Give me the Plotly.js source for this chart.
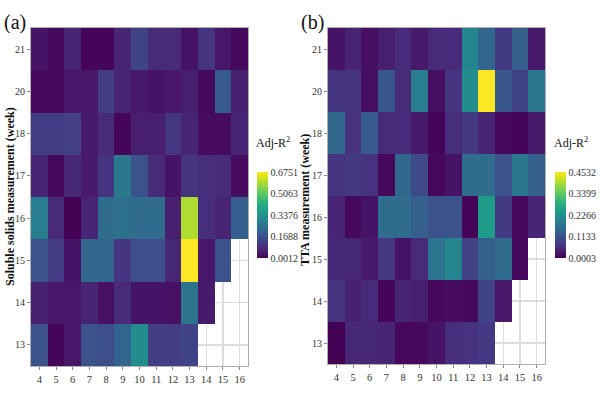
<!DOCTYPE html>
<html>
<head>
<meta charset="utf-8">
<script src="https://cdn.plot.ly/plotly-3.0.1.min.js"></script>
<style>html,body{margin:0;padding:0;background:#fff;}#chart{width:600px;height:400px;}</style>
</head>
<body>
<div id="chart"></div>
<script>
// Harvest week (x) and measurement week (y)
var xWeeks = [4, 5, 6, 7, 8, 9, 10, 11, 12, 13, 14, 15, 16];
var yWeeks = ['13', '14', '15', '16', '17', '18', '20', '21'];

// (a) Soluble solids Adj-R2, rows follow yWeeks (bottom to top)
var ssRow13 = [0.170, 0.008, 0.042, 0.170, 0.163, 0.217, 0.325, 0.122, 0.122, 0.136, null, null, null];
var ssRow14 = [0.062, 0.042, 0.042, 0.069, 0.028, 0.082, 0.035, 0.035, 0.028, 0.257, 0.048, null, null];
var ssRow15 = [0.170, 0.116, 0.035, 0.224, 0.217, 0.102, 0.163, 0.163, 0.075, 0.6751, 0.042, 0.170, null];
var ssRow16 = [0.284, 0.082, 0.0012, 0.069, 0.237, 0.250, 0.237, 0.237, 0.055, 0.594, 0.089, 0.069, 0.203];
var ssRow17 = [0.069, 0.015, 0.075, 0.048, 0.102, 0.271, 0.170, 0.082, 0.035, 0.102, 0.089, 0.082, 0.021];
var ssRow18 = [0.116, 0.116, 0.129, 0.048, 0.082, 0.008, 0.055, 0.055, 0.109, 0.069, 0.021, 0.021, 0.069];
var ssRow20 = [0.015, 0.015, 0.042, 0.042, 0.122, 0.069, 0.048, 0.035, 0.042, 0.055, 0.015, 0.190, 0.055];
var ssRow21 = [0.035, 0.015, 0.069, 0.008, 0.008, 0.069, 0.136, 0.082, 0.082, 0.035, 0.102, 0.042, 0.015];

// (b) TTA Adj-R2
var ttaRow13 = [0.0003, 0.050, 0.050, 0.046, 0.009, 0.009, 0.023, 0.059, 0.064, 0.077, null, null, null];
var ttaRow14 = [0.068, 0.041, 0.055, 0.005, 0.046, 0.037, 0.009, 0.014, 0.009, 0.091, 0.027, null, null];
var ttaRow15 = [0.050, 0.050, 0.032, 0.073, 0.023, 0.055, 0.172, 0.204, 0.091, 0.136, 0.159, 0.009, null];
var ttaRow16 = [0.046, 0.009, 0.023, 0.159, 0.159, 0.136, 0.114, 0.114, 0.005, 0.249, 0.077, 0.009, 0.046];
var ttaRow17 = [0.068, 0.073, 0.064, 0.009, 0.150, 0.100, 0.009, 0.023, 0.159, 0.159, 0.114, 0.181, 0.136];
var ttaRow18 = [0.150, 0.064, 0.127, 0.055, 0.055, 0.032, 0.005, 0.059, 0.077, 0.046, 0.009, 0.005, 0.032];
var ttaRow20 = [0.068, 0.068, 0.018, 0.123, 0.055, 0.191, 0.018, 0.068, 0.218, 0.4532, 0.123, 0.091, 0.181];
var ttaRow21 = [0.023, 0.046, 0.018, 0.037, 0.055, 0.032, 0.055, 0.055, 0.204, 0.150, 0.077, 0.136, 0.032];

var ssTicks = [0.0012, 0.1688, 0.3376, 0.5063, 0.6751];
var ttaTicks = [0.0003, 0.1133, 0.2266, 0.3399, 0.4532];

var serif = 'Liberation Serif, Times New Roman, serif';
var ssZ = [ssRow13, ssRow14, ssRow15, ssRow16, ssRow17, ssRow18, ssRow20, ssRow21];
var ttaZ = [ttaRow13, ttaRow14, ttaRow15, ttaRow16, ttaRow17, ttaRow18, ttaRow20, ttaRow21];

function cb(x, ticks) {
  return {
    x: x, xanchor: 'left', y: 0.4625, yanchor: 'middle', len: 0.215, lenmode: 'fraction',
    thickness: 11, outlinewidth: 0, ticks: '', tickvals: ticks,
    ticktext: ticks.map(function (t) { return t.toFixed(4); }),
    tickfont: {family: serif, size: 10, color: '#333'}, xpad: 0, ypad: 0
  };
}

var traces = [
  {type: 'heatmap', x: xWeeks, y: yWeeks, z: ssZ, colorscale: 'Viridis',
   zmin: ssTicks[0], zmax: ssTicks[4], xaxis: 'x', yaxis: 'y', colorbar: cb(0.428, ssTicks),
   hoverongaps: false},
  {type: 'heatmap', x: xWeeks, y: yWeeks, z: ttaZ, colorscale: 'Viridis',
   zmin: ttaTicks[0], zmax: ttaTicks[4], xaxis: 'x2', yaxis: 'y2', colorbar: cb(0.925, ttaTicks),
   hoverongaps: false}
];

function xa(domain) {
  return {domain: domain, range: [3.5, 16.5], tickvals: xWeeks, showgrid: true, gridcolor: '#dcdcdc',
    gridwidth: 1.5, zeroline: false, showline: true, mirror: true, linecolor: '#b0b0b0', linewidth: 1,
    ticks: 'outside', ticklen: 3, tickcolor: '#888', tickfont: {family: serif, size: 10.5, color: '#333'}};
}
function ya(domain, anchor) {
  return {domain: domain, type: 'category', categoryorder: 'array', categoryarray: yWeeks,
    anchor: anchor, showgrid: true, gridcolor: '#dcdcdc', gridwidth: 1.5, zeroline: false,
    showline: true, mirror: true, linecolor: '#b0b0b0', linewidth: 1,
    ticks: 'outside', ticklen: 3, tickcolor: '#888', tickfont: {family: serif, size: 10, color: '#333'}};
}
var xa2 = xa([0.5467, 0.9083]); xa2.anchor = 'y2';
var xa1 = xa([0.0517, 0.4133]); xa1.anchor = 'y';

function ann(text, px, py, size, extra) {
  var a = {text: text, x: px / 600, y: 1 - py / 400, xref: 'paper', yref: 'paper', showarrow: false,
    xanchor: 'center', yanchor: 'middle', font: {family: serif, size: size, color: '#111'}};
  for (var k in extra) a[k] = extra[k];
  return a;
}

var layout = {
  width: 600, height: 400, margin: {l: 0, r: 0, t: 0, b: 0},
  paper_bgcolor: '#fff', plot_bgcolor: '#fff', showlegend: false,
  xaxis: xa1, yaxis: ya([0.085, 0.93], 'x'),
  xaxis2: xa2, yaxis2: ya([0.09, 0.93], 'x2'),
  annotations: [
    ann('(a)', 15, 22, 20, {}),
    ann('(b)', 312, 22, 20, {}),
    ann('<b>Soluble solids measurement (week)</b>', 10, 197, 12, {textangle: -90}),
    ann('<b>TTA measurement (week)</b>', 305, 200, 12, {textangle: -90}),
    ann('Adj-R<sup>2</sup>', 273, 142, 12, {}),
    ann('Adj-R<sup>2</sup>', 571, 142, 12, {})
  ]
};

Plotly.newPlot('chart', traces, layout, {staticPlot: true, displayModeBar: false});
</script>
</body>
</html>
